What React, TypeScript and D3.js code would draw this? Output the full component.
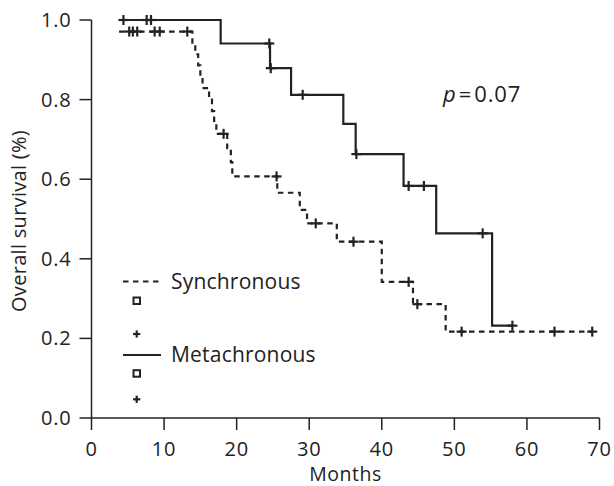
import React from "react";
import * as d3 from "d3";

// ---- Data ----
const syncTimes = [3.8, 13.9, 14.3, 14.7, 15.0, 15.3, 16.2, 16.6, 16.9, 17.2, 18.7, 19.2, 19.4, 25.6, 28.7, 29.7, 33.8, 40.0, 44.3, 48.8];
const syncSurv = [0.971, 0.943, 0.914, 0.886, 0.857, 0.829, 0.8, 0.771, 0.743, 0.714, 0.678, 0.643, 0.607, 0.566, 0.523, 0.489, 0.443, 0.342, 0.286, 0.217];
const syncEnd = 69.0;
const syncCensor = [5.2, 5.7, 6.3, 8.7, 9.4, 13.2, 18.2, 25.5, 30.9, 36.1, 43.7, 44.9, 51.0, 63.8, 69.0];

const metaTimes = [3.9, 17.8, 24.6, 27.5, 34.7, 36.4, 43.0, 47.5, 55.2];
const metaSurv = [1.0, 0.941, 0.879, 0.812, 0.739, 0.663, 0.583, 0.464, 0.232];
const metaEnd = 58.0;
const metaCensor = [4.4, 7.6, 8.2, 24.5, 24.7, 29.1, 36.5, 43.7, 45.8, 53.9, 58.0];

const xTicks = [0, 10, 20, 30, 40, 50, 60, 70];
const yTicks = [0, 0.2, 0.4, 0.6, 0.8, 1.0];
const seriesNames = ["Synchronous", "Metachronous"];
const xLabel = "Months";
const yLabel = "Overall survival (%)";
const pLabel = "0.07";

const W = 614;
const H = 486;
const INK = "#222";
const FONT = "'Open Sans', 'Noto Sans', sans-serif";

function stepPoints(times: number[], surv: number[], end: number): [number, number][] {
  const pts: [number, number][] = times.map((t, i) => [t, surv[i]]);
  pts.push([end, surv[surv.length - 1]]);
  return pts;
}

function survAt(times: number[], surv: number[], t: number) {
  let s = surv[0];
  for (let i = 0; i < times.length; i++) if (times[i] <= t) s = surv[i];
  return s;
}

export default function App() {
  const x = d3.scaleLinear().domain([0, 70]).range([91.5, 599.5]);
  const y = d3.scaleLinear().domain([0, 1]).range([418, 20]);
  const line = d3
    .line<[number, number]>()
    .x((d) => x(d[0]))
    .y((d) => y(d[1]))
    .curve(d3.curveStepAfter);

  const syncPath = line(stepPoints(syncTimes, syncSurv, syncEnd)) || "";
  const metaPath = line(stepPoints(metaTimes, metaSurv, metaEnd)) || "";

  const cross = (cx: number, cy: number, r: number, key: string, sw = 2.2) => (
    <g key={key} stroke={INK} strokeWidth={sw}>
      <line x1={cx - r} x2={cx + r} y1={cy} y2={cy} />
      <line x1={cx} x2={cx} y1={cy - r} y2={cy + r} />
    </g>
  );

  const tickLen = 12;
  const fs = 20;
  const ls = 0.8;

  return (
    <svg
      width={W}
      height={H}
      style={{ position: "absolute", left: 0, top: 0, background: "#fff" }}
      fontFamily={FONT}
    >
      <rect x={0} y={0} width={W} height={H} fill="#fff" />
      {/* axes */}
      <line x1={x(0)} x2={x(0)} y1={y(1)} y2={y(0)} stroke={INK} strokeWidth={1.5} />
      <line x1={x(0)} x2={x(70)} y1={y(0)} y2={y(0)} stroke={INK} strokeWidth={1.5} />
      {yTicks.map((t) => (
        <g key={"y" + t}>
          <line x1={x(0) - tickLen} x2={x(0)} y1={y(t)} y2={y(t)} stroke={INK} strokeWidth={1.5} />
          <text x={x(0) - tickLen - 8} y={y(t)} dy="0.35em" textAnchor="end" fontSize={fs} letterSpacing={ls} fill={INK}>
            {t.toFixed(1)}
          </text>
        </g>
      ))}
      {xTicks.map((t) => (
        <g key={"x" + t}>
          <line x1={x(t)} x2={x(t)} y1={y(0)} y2={y(0) + tickLen} stroke={INK} strokeWidth={1.5} />
          <text x={x(t)} y={455.5} textAnchor="middle" fontSize={fs} letterSpacing={ls} fill={INK}>
            {t}
          </text>
        </g>
      ))}
      <text x={(x(0) + x(70)) / 2} y={481} textAnchor="middle" fontSize={19.5} letterSpacing={0.5} fill={INK}>
        {xLabel}
      </text>
      <text
        transform={`translate(26, ${(y(0) + y(1)) / 2 + 2}) rotate(-90)`}
        textAnchor="middle"
        fontSize={fs}
        letterSpacing={0.3}
        fill={INK}
      >
        {yLabel}
      </text>

      {/* curves */}
      <path d={syncPath} fill="none" stroke={INK} strokeWidth={2.2} strokeDasharray="5.5,4.5" />
      <path d={metaPath} fill="none" stroke={INK} strokeWidth={2.2} />
      {syncCensor.map((t, i) => cross(x(t), y(survAt(syncTimes, syncSurv, t)), 5, "sc" + i))}
      {metaCensor.map((t, i) => cross(x(t), y(survAt(metaTimes, metaSurv, t)), 5, "mc" + i))}

      {/* p value */}
      <text x={443} y={102} fontSize={22} fill={INK}>
        <tspan fontStyle="italic">p</tspan>
        <tspan dx={3}>=</tspan>
        <tspan dx={3} letterSpacing={0.8}>{pLabel}</tspan>
      </text>

      {/* legend */}
      <line x1={123} x2={161} y1={281.5} y2={281.5} stroke={INK} strokeWidth={2.2} strokeDasharray="5.5,4.5" />
      <text x={171} y={281.5} dy="0.35em" fontSize={21} letterSpacing={0.2} fill={INK}>
        {seriesNames[0]}
      </text>
      <rect x={133.5} y={297.5} width={6.5} height={6.5} fill="none" stroke={INK} strokeWidth={2} />
      {cross(136.7, 334, 3.6, "lc1", 2.2)}
      <line x1={123} x2={161} y1={355} y2={355} stroke={INK} strokeWidth={2.2} />
      <text x={171} y={355} dy="0.35em" fontSize={21} letterSpacing={0.2} fill={INK}>
        {seriesNames[1]}
      </text>
      <rect x={133.5} y={370.2} width={6.5} height={6.5} fill="none" stroke={INK} strokeWidth={2} />
      {cross(136.7, 399.3, 3.6, "lc2", 2.2)}
    </svg>
  );
}
